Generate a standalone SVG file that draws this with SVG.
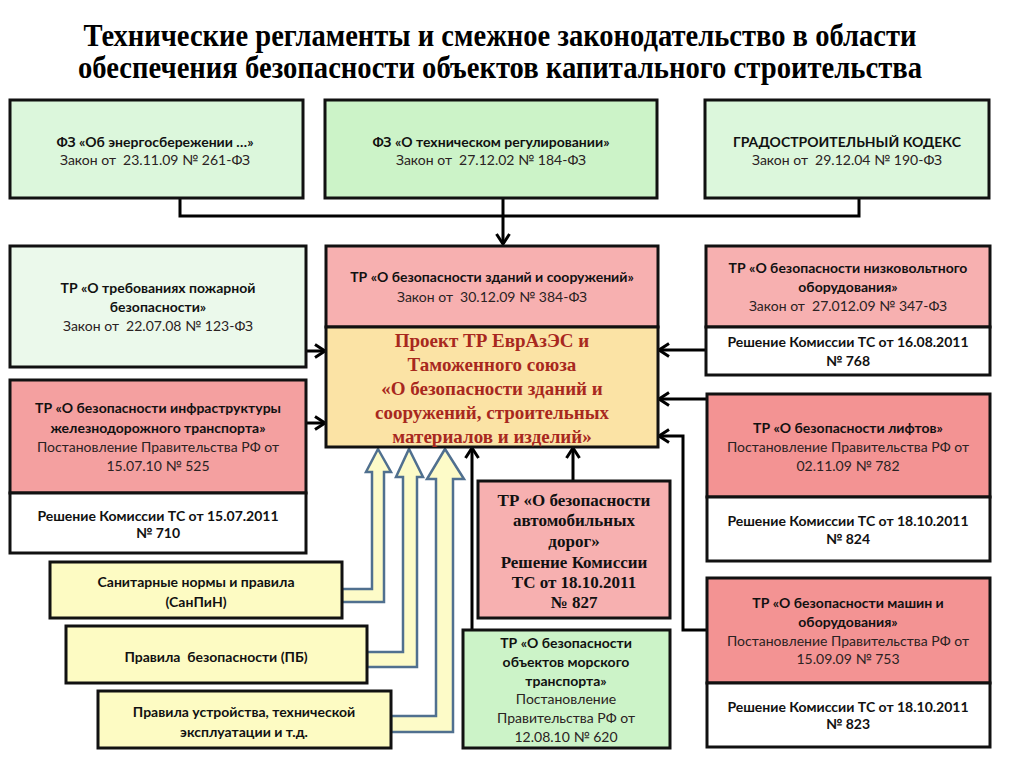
<svg xmlns="http://www.w3.org/2000/svg" width="1024" height="767" viewBox="0 0 1024 767">
<defs>
<marker id="arr" markerUnits="userSpaceOnUse" markerWidth="14" markerHeight="16" viewBox="0 0 14 16" refX="12" refY="8" orient="auto">
<path d="M2,1.5 L12,8 L2,14.5" fill="none" stroke="#000" stroke-width="3" stroke-linejoin="miter"/>
</marker>
</defs>
<style>
.bx{stroke:#111;stroke-width:3}
.gA{fill:#dcf7dc}.gB{fill:#ccf3c8}.gC{fill:#ebf9eb}
.pA{fill:#f7b0b0}.pB{fill:#f4a0a0}.pC{fill:#f39393}
.wh{fill:#fff}.yl{fill:#fdfbc3}.cy{fill:#fbe3a5}
text{font-family:Lato,"Liberation Sans",sans-serif;font-size:14px;text-anchor:middle;fill:#2a2222;white-space:pre}
.b{font-weight:bold;fill:#111}
.ttl{font-family:"Liberation Serif",serif;font-weight:bold;font-size:31px;fill:#000}
.red{font-family:"Liberation Serif",serif;font-weight:bold;font-size:19px;fill:#a8281e}
.sf{font-family:"Liberation Serif",serif;font-weight:bold;font-size:17px;fill:#111}
.ln{fill:none;stroke:#000;stroke-width:3}
.blk{fill:#fdfbc8;stroke:#50708f;stroke-width:2.5;stroke-linejoin:miter}
</style>
<rect width="1024" height="767" fill="#fff"/>
<g id="title">
<text class="ttl" x="500" y="46" textLength="833" lengthAdjust="spacingAndGlyphs">Технические регламенты и смежное законодательство в области</text>
<text class="ttl" x="500" y="78" textLength="844" lengthAdjust="spacingAndGlyphs">обеспечения безопасности объектов капитального строительства</text>
</g>
<g id="connectors">
<polyline class="ln" points="180,198 180,216 859,216 859,198"/>
<line class="ln" x1="503" y1="198" x2="503" y2="244" marker-end="url(#arr)"/>
<line class="ln" x1="306" y1="351" x2="325" y2="351" marker-end="url(#arr)"/>
<line class="ln" x1="306" y1="423" x2="325" y2="423" marker-end="url(#arr)"/>
<line class="ln" x1="706" y1="350" x2="659" y2="350" marker-end="url(#arr)"/>
<line class="ln" x1="707" y1="399" x2="659" y2="399" marker-end="url(#arr)"/>
<polyline class="ln" points="707,630 683,630 683,436 659,436" marker-end="url(#arr)"/>
<line class="ln" x1="573" y1="481" x2="573" y2="448" marker-end="url(#arr)"/>
<line class="ln" x1="472" y1="630" x2="472" y2="448" marker-end="url(#arr)"/>
<polygon class="blk" points="342,589 372,589 372,472 366,472 378,449 391,472 384,472 384,602 342,602"/>
<polygon class="blk" points="367,652 403,652 403,477 396,477 409,449 423,477 417,477 417,667 367,667"/>
<polygon class="blk" points="391,716 436,716 436,479 427,479 445,449 464,479 453,479 453,732 391,732"/>
</g>
<g id="n-energy">
<rect class="bx gA" x="10" y="100" width="293" height="98"/>
<text class="b" x="155" y="147">ФЗ «Об энергосбережении …»</text>
<text x="155" y="165">Закон от  23.11.09 № 261-ФЗ</text>
</g>
<g id="n-techreg">
<rect class="bx gB" x="325" y="100" width="332" height="98"/>
<text class="b" x="491" y="147">ФЗ «О техническом регулировании»</text>
<text x="491" y="165">Закон от  27.12.02 № 184-ФЗ</text>
</g>
<g id="n-grad">
<rect class="bx gA" x="705" y="100" width="284" height="98"/>
<text class="b" x="847" y="147">ГРАДОСТРОИТЕЛЬНЫЙ КОДЕКС</text>
<text x="847" y="165">Закон от  29.12.04 № 190-ФЗ</text>
</g>
<g id="n-fire">
<rect class="bx gC" x="10" y="246" width="296" height="121"/>
<text class="b" x="158" y="293">ТР «О требованиях пожарной</text>
<text class="b" x="158" y="312">безопасности»</text>
<text x="158" y="331">Закон от  22.07.08 № 123-ФЗ</text>
</g>
<g id="n-rail">
<rect class="bx pB" x="10" y="380" width="296" height="113"/>
<rect class="bx wh" x="10" y="493" width="296" height="60"/>
<text class="b" x="158" y="413">ТР «О безопасности инфраструктуры</text>
<text class="b" x="158" y="433">железнодорожного транспорта»</text>
<text x="158" y="452">Постановление Правительства РФ от</text>
<text x="158" y="471">15.07.10 № 525</text>
<text class="b" x="158" y="521">Решение Комиссии ТС от 15.07.2011</text>
<text class="b" x="158" y="538">№ 710</text>
</g>
<g id="n-center">
<rect class="bx pA" x="326" y="246" width="332" height="81"/>
<rect class="bx cy" x="326" y="327" width="332" height="120"/>
<text class="b" x="492" y="282">ТР «О безопасности зданий и сооружений»</text>
<text x="492" y="302">Закон от  30.12.09 № 384-ФЗ</text>
<text class="red" x="492" y="347">Проект ТР ЕврАзЭС и</text>
<text class="red" x="492" y="371">Таможенного союза</text>
<text class="red" x="492" y="395">«О безопасности зданий и</text>
<text class="red" x="492" y="419">сооружений, строительных</text>
<text class="red" x="492" y="443">материалов и изделий»</text>
</g>
<g id="n-lowvolt">
<rect class="bx pA" x="706" y="246" width="284" height="81"/>
<rect class="bx wh" x="706" y="327" width="284" height="48"/>
<text class="b" x="848" y="273">ТР «О безопасности низковольтного</text>
<text class="b" x="848" y="292">оборудования»</text>
<text x="848" y="311">Закон от  27.012.09 № 347-ФЗ</text>
<text class="b" x="848" y="347">Решение Комиссии ТС от 16.08.2011</text>
<text class="b" x="848" y="366">№ 768</text>
</g>
<g id="n-lifts">
<rect class="bx pC" x="707" y="394" width="283" height="103"/>
<rect class="bx wh" x="707" y="497" width="283" height="64"/>
<text class="b" x="848" y="433">ТР «О безопасности лифтов»</text>
<text x="848" y="452">Постановление Правительства РФ от</text>
<text x="848" y="471">02.11.09 № 782</text>
<text class="b" x="848" y="526">Решение Комиссии ТС от 18.10.2011</text>
<text class="b" x="848" y="544">№ 824</text>
</g>
<g id="n-machines">
<rect class="bx pC" x="707" y="578" width="283" height="105"/>
<rect class="bx wh" x="707" y="683" width="283" height="64"/>
<text class="b" x="848" y="608">ТР «О безопасности машин и</text>
<text class="b" x="848" y="627">оборудования»</text>
<text x="848" y="646">Постановление Правительства РФ от</text>
<text x="848" y="664">15.09.09 № 753</text>
<text class="b" x="848" y="712">Решение Комиссии ТС от 18.10.2011</text>
<text class="b" x="848" y="729">№ 823</text>
</g>
<g id="n-roads">
<rect class="bx pA" x="478" y="481" width="192" height="137"/>
<text class="sf" x="574" y="506">ТР «О безопасности</text>
<text class="sf" x="574" y="526">автомобильных</text>
<text class="sf" x="574" y="547">дорог»</text>
<text class="sf" x="574" y="568">Решение Комиссии</text>
<text class="sf" x="574" y="588">ТС от 18.10.2011</text>
<text class="sf" x="574" y="608">№ 827</text>
</g>
<g id="n-sea">
<rect class="bx gB" x="463" y="630" width="207" height="118"/>
<text class="b" x="566" y="648">ТР «О безопасности</text>
<text class="b" x="566" y="667">объектов морского</text>
<text class="b" x="566" y="686">транспорта»</text>
<text x="566" y="704">Постановление</text>
<text x="566" y="723">Правительства РФ от</text>
<text x="566" y="742">12.08.10 № 620</text>
</g>
<g id="n-sanpin">
<rect class="bx yl" x="50" y="562" width="292" height="56"/>
<text class="b" x="196" y="587">Санитарные нормы и правила</text>
<text class="b" x="196" y="607">(СанПиН)</text>
</g>
<g id="n-pb">
<rect class="bx yl" x="66" y="626" width="301" height="57"/>
<text class="b" x="216" y="662">Правила  безопасности (ПБ)</text>
</g>
<g id="n-rules">
<rect class="bx yl" x="98" y="691" width="293" height="57"/>
<text class="b" x="244" y="717">Правила устройства, технической</text>
<text class="b" x="244" y="737">эксплуатации и т.д.</text>
</g>
</svg>
